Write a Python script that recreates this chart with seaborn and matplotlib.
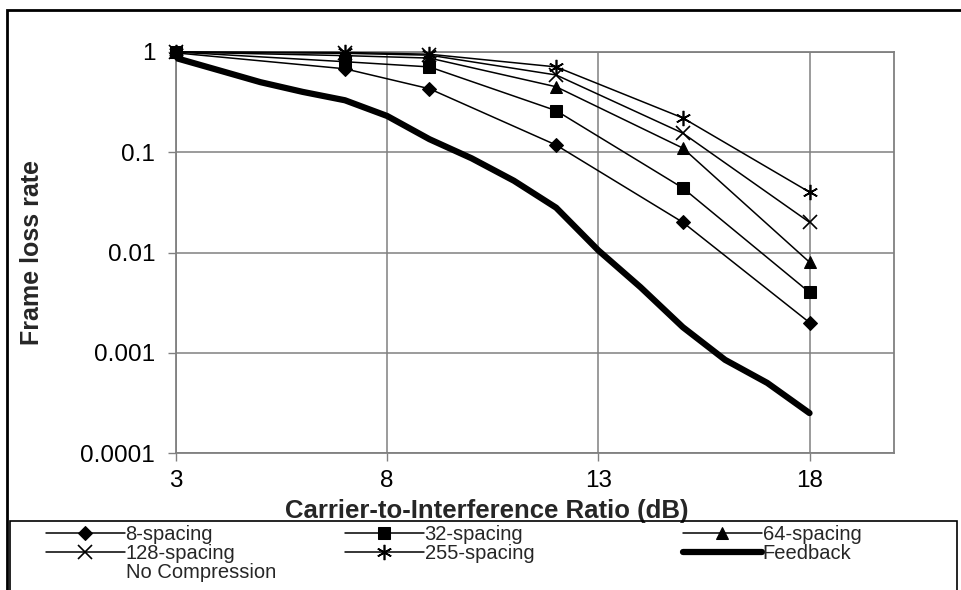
import numpy as np
import pandas as pd
import matplotlib
matplotlib.use("Agg")
import matplotlib.pyplot as plt
import seaborn as sns
from matplotlib.lines import Line2D
from matplotlib.patches import Rectangle
from matplotlib.ticker import FixedLocator, NullLocator

sns.set_style("white")
plt.rcParams['font.family'] = ['Liberation Sans', 'DejaVu Sans']

# Data
cir = [3, 7, 9, 12, 15, 18]
sp8 = [0.98, 0.68, 0.43, 0.118, 0.020, 0.0020]
sp32 = [1.0, 0.80, 0.71, 0.26, 0.044, 0.0040]
sp64 = [1.0, 0.92, 0.87, 0.45, 0.11, 0.0080]
sp128 = [1.0, 0.97, 0.93, 0.59, 0.155, 0.020]
sp255 = [1.0, 0.99, 0.95, 0.71, 0.22, 0.040]

fb_cir = [3, 4, 5, 6, 7, 8, 9, 10, 11, 12, 13, 14, 15, 16, 17, 18]
feedback = [0.87, 0.66, 0.50, 0.40, 0.33, 0.23, 0.135, 0.087, 0.052, 0.028,
            0.0105, 0.0045, 0.0018, 0.00085, 0.0005, 0.00025]

xticks = [3, 8, 13, 18]
yticks = [0.0001, 0.001, 0.01, 0.1, 1]
ytick_labels = ['0.0001', '0.001', '0.01', '0.1', '1']

W, H = 962, 590
fig = plt.figure(figsize=(W / 100, H / 100), dpi=100)
ax = fig.add_axes([176 / W, 1 - 453 / H, (894 - 176) / W, (453 - 52) / H])

series = [
    ('8-spacing', sp8, dict(marker='D', markersize=7)),
    ('32-spacing', sp32, dict(marker='s', markersize=9)),
    ('64-spacing', sp64, dict(marker='^', markersize=9)),
    ('128-spacing', sp128, dict(marker='x', markersize=10, markeredgewidth=1.2)),
    ('255-spacing', sp255, dict(marker=(6, 2, 0), markersize=11, markeredgewidth=1.2)),
]
handles = {}
for name, vals, mk in series:
    sns.lineplot(x=cir, y=vals, ax=ax, color='black', linewidth=1.1,
                 markeredgecolor='black', markerfacecolor='black',
                 clip_on=False, zorder=3, **mk)
    handles[name] = ax.get_lines()[-1]

sns.lineplot(x=fb_cir, y=feedback, ax=ax, color='black', linewidth=4.5,
             solid_capstyle='round', solid_joinstyle='round', zorder=3)
handles['Feedback'] = ax.get_lines()[-1]

ax.set_yscale('log')
ax.set_xlim(3, 20)
ax.set_ylim(0.0001, 1)
ax.xaxis.set_major_locator(FixedLocator(xticks))
ax.set_xticklabels([str(t) for t in xticks])
ax.yaxis.set_major_locator(FixedLocator(yticks))
ax.yaxis.set_minor_locator(NullLocator())
ax.set_yticklabels(ytick_labels)
ax.tick_params(axis='both', direction='out', length=6, width=1, color='#808080',
               labelsize=17.5, labelcolor='black', left=True, bottom=True)
ax.tick_params(axis='y', pad=9)
ax.tick_params(axis='x', pad=6)
ax.grid(True, which='major', color='#808080', linewidth=1.1)
for s in ax.spines.values():
    s.set_color('#808080')
    s.set_linewidth(1.3)

ax.set_xlabel('Carrier-to-Interference Ratio (dB)', fontsize=18.5, fontweight='bold')
ax.set_ylabel('Frame loss rate', fontsize=18, fontweight='bold')
ax.xaxis.set_label_coords(0.433, -0.115)
ax.yaxis.set_label_coords(-0.184, 0.5)

# outer chart border and legend box
fig.add_artist(Rectangle((7 / W, -0.1), 1.2, 1 - 10 / H + 0.1, transform=fig.transFigure,
                         fill=False, lw=2, ec='black'))
fig.add_artist(Rectangle((10 / W, -0.1), (957 - 10) / W, 1 - 521 / H + 0.1,
                         transform=fig.transFigure, fill=False, lw=1.2, ec='black'))

blank = Line2D([], [], linestyle='none')
cols = [
    (46, [handles['8-spacing'], handles['128-spacing'], blank],
     ['8-spacing', '128-spacing', 'No Compression']),
    (345, [handles['32-spacing'], handles['255-spacing']], ['32-spacing', '255-spacing']),
    (683, [handles['64-spacing'], handles['Feedback']], ['64-spacing', 'Feedback']),
]
for x0, hs, ls in cols:
    fig.legend(hs, ls, loc='upper left', bbox_to_anchor=(x0 / W, 1 - 525 / H),
               frameon=False, fontsize=14.5, handlelength=3.9, handletextpad=0.05,
               borderpad=0, borderaxespad=0, labelspacing=0.0)

fig.savefig('out.png', dpi=100)
